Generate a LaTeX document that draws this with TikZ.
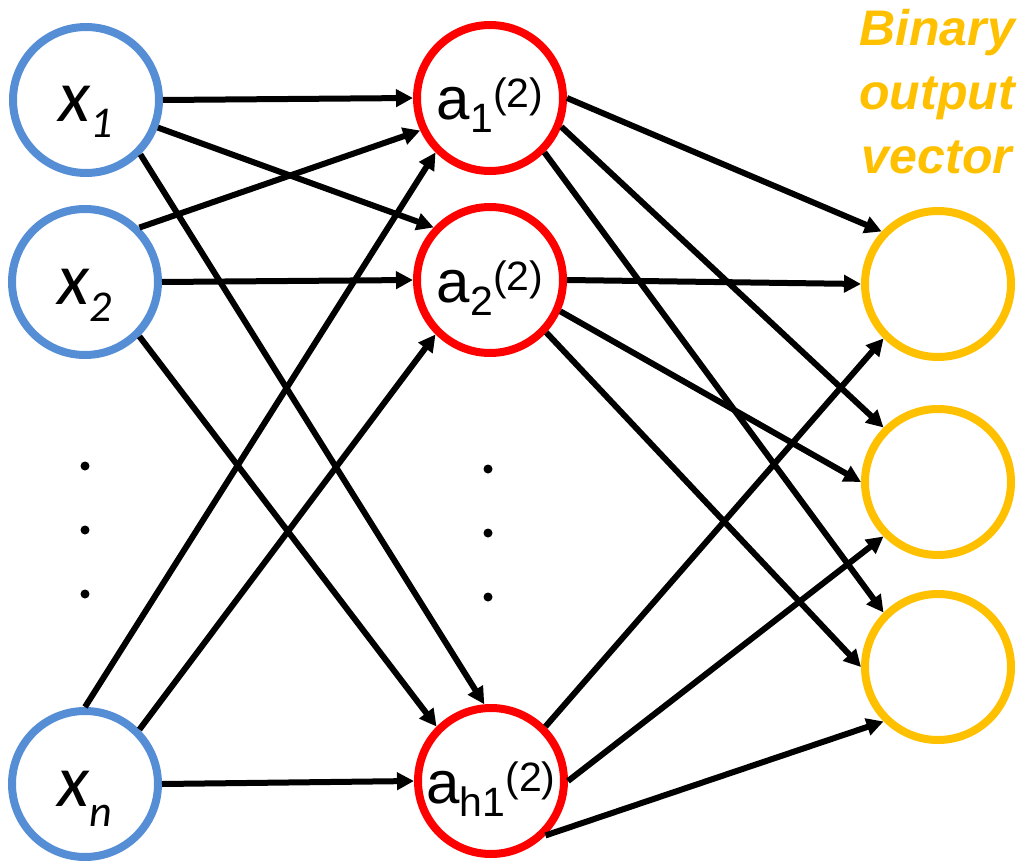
\documentclass[tikz,border=0pt]{standalone}
\usepackage{fontspec}
\setmainfont{Liberation Sans}
\newfontfamily\calibri{Carlito}
\usetikzlibrary{arrows.meta}
\definecolor{inblue}{HTML}{558ED5}
\definecolor{outyellow}{HTML}{FFC000}
% input label x_i and hidden label a_i^(2)
\newcommand{\xin}[2][16pt]{{\calibri\itshape\fontsize{74}{74}\selectfont x\raisebox{-#1}{\fontsize{44}{44}\selectfont #2}}}
\newcommand{\act}[1]{{\fontsize{60}{60}\selectfont a\raisebox{-13pt}{\fontsize{41}{41}\selectfont #1}\raisebox{12pt}{\fontsize{41}{41}\selectfont (2)}}}
\tikzset{
  neuron/.style={circle,line width=8pt,minimum size=146pt,inner sep=0pt,text height=44pt,text depth=0pt},
  conn/.style={line width=6pt,-{Triangle[length=17pt,width=17pt]}},
}
\begin{document}
\begin{tikzpicture}[x=1pt,y=-1pt]
\useasboundingbox (0,0) rectangle (1020,861);
% input layer
\node[neuron,draw=inblue] (x1) at (86,100) {\xin{1}};
\node[neuron,draw=inblue] (x2) at (85,282) {\xin[17pt]{2}};
\node[neuron,draw=inblue] (xn) at (85,784) {\xin[20pt]{n}};
% hidden layer
\node[neuron,draw=red] (a1) at (490,98) {\act{1}};
\node[neuron,draw=red] (a2) at (490,280) {\act{2}};
\node[neuron,draw=red] (ah) at (491,781) {\act{h1}};
% output layer
\node[neuron,draw=outyellow] (o1) at (938,284) {};
\node[neuron,draw=outyellow] (o2) at (938,482) {};
\node[neuron,draw=outyellow] (o3) at (938,667) {};
\node[anchor=north,inner sep=0pt,align=center,text=outyellow,font=\fontsize{50}{64}\selectfont\bfseries\itshape] (title) at (937,9) {Binary\\output\\vector};
% vertical dots
\foreach \y in {466,530,594} \fill (85,\y) circle[radius=4.5pt];
\foreach \y in {469,533,597} \fill (488,\y) circle[radius=4.5pt];
% weights input -> hidden
\foreach \s/\t in {x1.0/a1.180, x1.-21/a2.137, x1.-45/ah.95,
                   x2.45/a1.205, x2.0/a2.180, x2.-45/ah.135,
                   xn.90/a1.225, xn.45/a2.225, xn.0/ah.180}
  \draw[conn] (\s) -- (\t);
% weights hidden -> output
\foreach \s/\t in {a1.0/o1.137, a1.-22/o2.135, a1.-45/o3.135,
                   a2.0/o1.180, a2.-24/o2.180, a2.-43/o3.180,
                   ah.45/o1.225, ah.0/o2.225, ah.-45/o3.225}
  \draw[conn] (\s) -- (\t);
\end{tikzpicture}
\end{document}
